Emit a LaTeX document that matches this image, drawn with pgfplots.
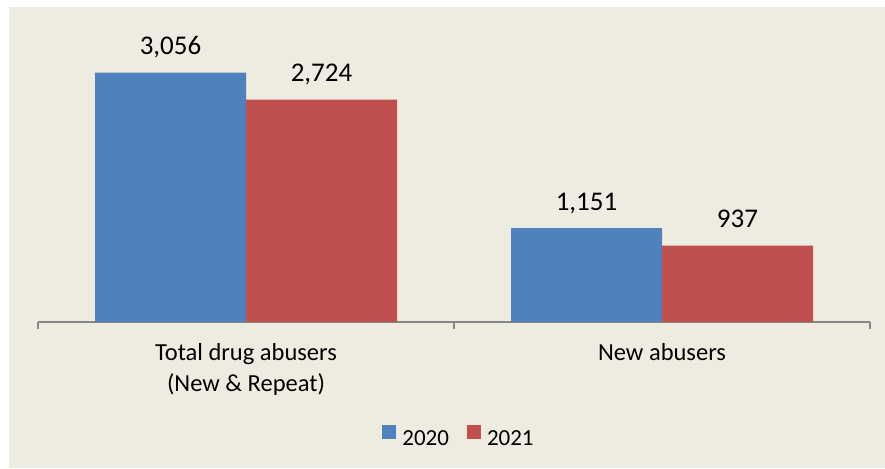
\documentclass[border=0pt]{standalone}
\usepackage{fontspec}
\setmainfont{Carlito}
\usepackage{pgfplots}
\pgfplotsset{compat=1.18}
\definecolor{bg}{HTML}{EEECE1}
\definecolor{b20}{HTML}{4F81BD}
\definecolor{r21}{HTML}{C0504D}
\definecolor{axgray}{HTML}{868686}
\begin{document}
\begin{tikzpicture}
\useasboundingbox (0,0) rectangle (885pt,468pt);
\fill[white] (0,0) rectangle (885pt,468pt);
\fill[bg] (9pt,0) rectangle (885pt,461pt);
\begin{axis}[
  at={(38pt,146pt)}, anchor=south west,
  scale only axis, width=832pt, height=285.6pt,
  xmin=0, xmax=2, ymin=0, ymax=3500,
  clip=false,
  axis x line=bottom, hide y axis,
  x axis line style={draw=axgray, line width=1.5pt, -},
  xtick={0.5,1.5},
  xticklabels={{Total drug abusers\\(New \& Repeat)},{New abusers}},
  major tick length=0pt,
  extra x ticks={0,1,2}, extra x tick labels={},
  extra x tick style={major tick length=7pt, tick align=outside, major tick style={draw=axgray, line width=1.5pt}},
  xticklabel style={font=\fontsize{24.5}{31}\selectfont, align=center, inner sep=0pt, yshift=-21pt, text=black},
  ybar=0pt, bar width=151pt,
  nodes near coords,
  every node near coord/.append style={font=\fontsize{27}{32}\selectfont, anchor=base, inner sep=0pt, yshift=18pt, text=black},
  /pgf/number format/assume math mode=true,
  /pgf/number format/1000 sep={,},
  legend columns=2,
  legend style={at={(0.5048,-0.398)}, anchor=center, draw=none, fill=none, font=\fontsize{23}{28}\selectfont, column sep=6pt, /tikz/every even column/.append style={column sep=18pt}, inner sep=0pt, nodes={inner sep=0pt}},
  legend image code/.code={\fill[#1] (0pt,0pt) rectangle (14pt,14pt);},
]
\addplot[fill=b20, draw=none] coordinates {(0.5,3056) (1.5,1151)};
\addplot[fill=r21, draw=none] coordinates {(0.5,2724) (1.5,937)};
\legend{2020,2021}
\end{axis}
\end{tikzpicture}
\end{document}
